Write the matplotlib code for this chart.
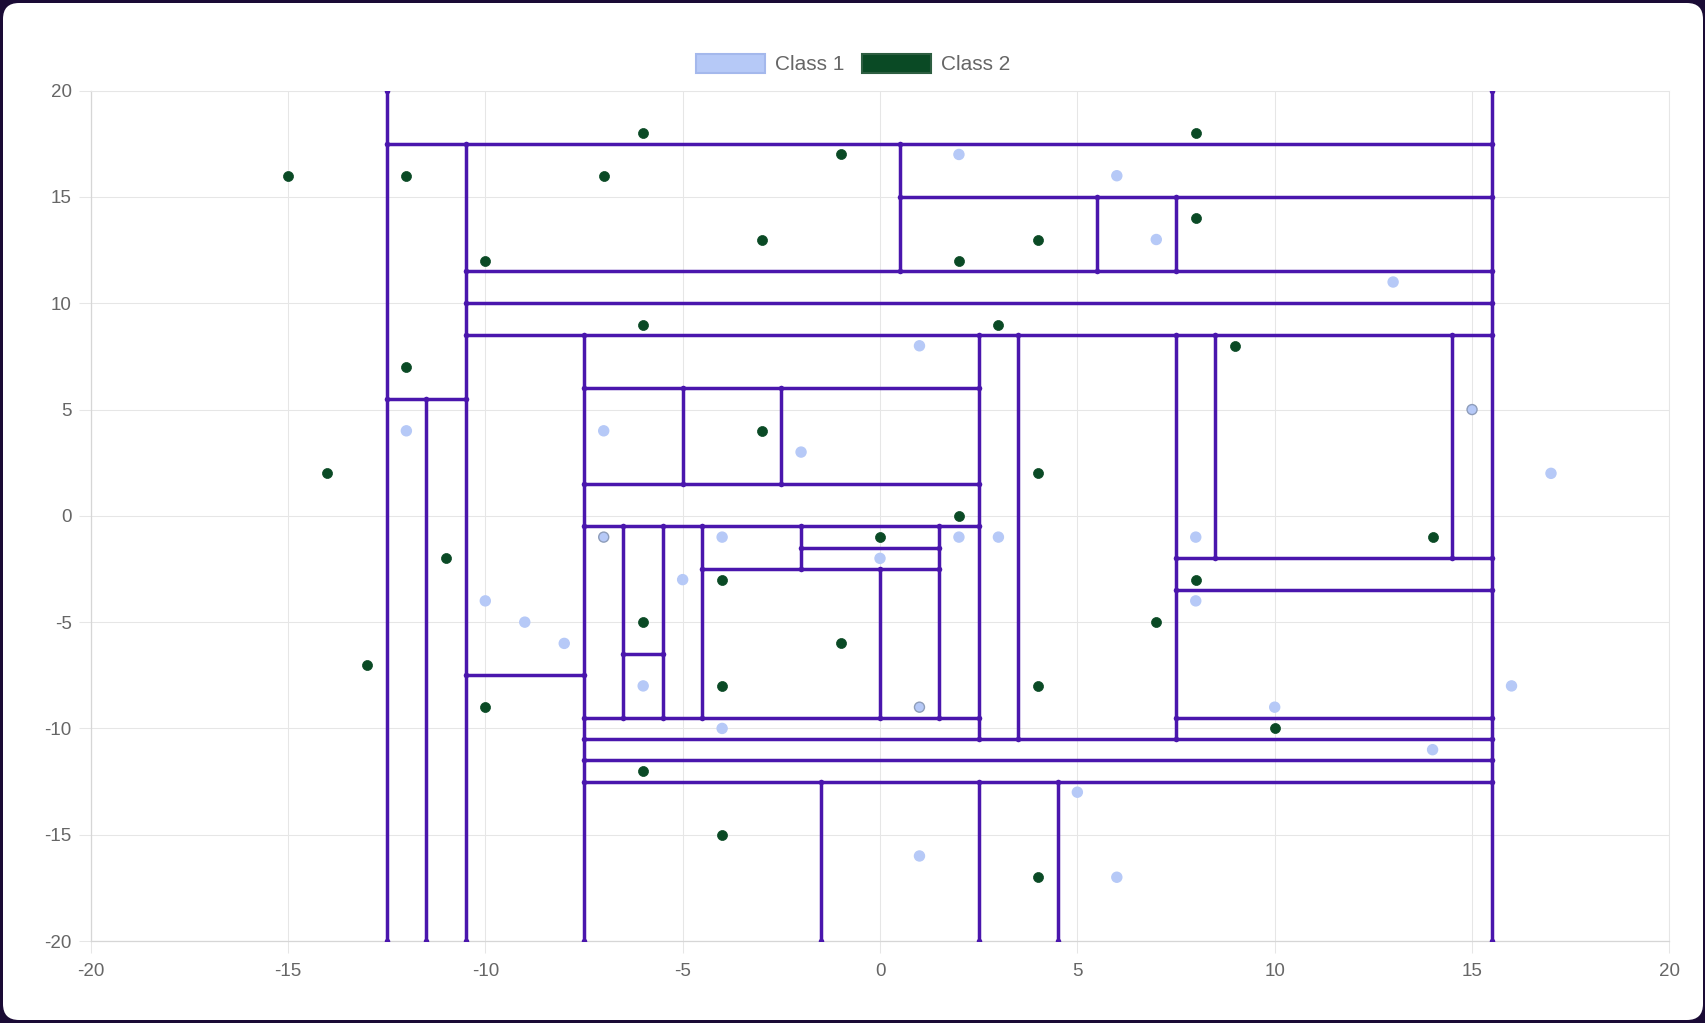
import matplotlib
matplotlib.use("Agg")
import matplotlib.pyplot as plt
from matplotlib.patches import FancyBboxPatch, Patch

# ---------------- data ----------------
class1_x = [2, 6, 7, 13, 1, 15, -12, -7, -2, 17, -7, -4, 2, 3, 8, 0, -5, -10, 8, -9,
            -8, -6, 16, 1, 10, -4, 14, 5, 1, 6]
class1_y = [17, 16, 13, 11, 8, 5, 4, 4, 3, 2, -1, -1, -1, -1, -1, -2, -3, -4, -4, -5,
            -6, -8, -8, -9, -9, -10, -11, -13, -16, -17]
class1_outlined = [False, False, False, False, False, True, False, False, False, False,
                   True, False, False, False, False, False, False, False, False, False,
                   False, False, False, True, False, False, False, False, False, False]

class2_x = [-15, -12, -7, -6, -1, 8, -10, -3, 2, 4, 8, -6, 3, 9, -12, -14, -3, 4, 2, 0,
            14, -11, -4, 8, -6, 7, -13, -1, -4, 4, -10, 10, -6, -4, 4]
class2_y = [16, 16, 16, 18, 17, 18, 12, 13, 12, 13, 14, 9, 9, 8, 7, 2, 4, 2, 0, -1,
            -1, -2, -3, -3, -5, -5, -7, -6, -8, -8, -9, -10, -12, -15, -17]

# decision boundaries: vertical splits (x, y_from, y_to)
vsplit_x = [-12.5, 15.5, -10.5, -11.5, 0.5, 5.5, 7.5, -7.5, 2.5, 3.5, 7.5, 8.5, 14.5,
            -5, -2.5, -6.5, -5.5, -4.5, -2, 0, 1.5, -1.5, 2.5, 4.5]
vsplit_y0 = [-20, -20, -20, -20, 11.5, 11.5, 11.5, -20, -10.5, -10.5, -10.5, -2, -2,
             1.5, 1.5, -9.5, -9.5, -9.5, -2.5, -9.5, -9.5, -20, -20, -20]
vsplit_y1 = [20, 20, 17.5, 5.5, 17.5, 15, 15, 8.5, 8.5, 8.5, 8.5, 8.5, 8.5,
             6, 6, -0.5, -0.5, -0.5, -0.5, -2.5, -0.5, -12.5, -12.5, -12.5]

# horizontal splits (y, x_from, x_to)
hsplit_y = [17.5, 5.5, -7.5, 11.5, 15, 10, 8.5, -2, -3.5, -9.5, 6, 1.5, -0.5, -6.5,
            -1.5, -2.5, -9.5, -10.5, -11.5, -12.5]
hsplit_x0 = [-12.5, -12.5, -10.5, -10.5, 0.5, -10.5, -10.5, 7.5, 7.5, 7.5, -7.5, -7.5,
             -7.5, -6.5, -2, -4.5, -7.5, -7.5, -7.5, -7.5]
hsplit_x1 = [15.5, -10.5, -7.5, 15.5, 15.5, 15.5, 15.5, 15.5, 15.5, 15.5, 2.5, 2.5,
             2.5, -5.5, 1.5, 1.5, 2.5, 15.5, 15.5, 15.5]

x_ticks = [-20, -15, -10, -5, 0, 5, 10, 15, 20]
y_ticks = [-20, -15, -10, -5, 0, 5, 10, 15, 20]
labels = ["Class 1", "Class 2"]

# ---------------- style ----------------
BG = "#1a0b35"
CARD = "#ffffff"
LIGHT = "#b6c9f7"
LIGHT_EDGE = "#a4b8ec"
GREEN = "#0a4a25"
GREEN_EDGE = "#2d5e41"
PURPLE = "#4a16ad"
GRID = "#e6e6e6"
AXISLINE = "#d6d6d6"
TXT = "#666666"
FONT = ["Liberation Sans", "DejaVu Sans"]

plt.rcParams["font.family"] = FONT
plt.rcParams["axes.unicode_minus"] = False

W, H = 1706, 1023
fig = plt.figure(figsize=(W / 100, H / 100), dpi=100)
fig.patch.set_facecolor(BG)

card = FancyBboxPatch((0.03, 0.03), W / 100 - 0.06, H / 100 - 0.06,
                      boxstyle="round,pad=0,rounding_size=0.16",
                      transform=fig.dpi_scale_trans, facecolor=CARD,
                      edgecolor="none", zorder=0)
fig.add_artist(card)

left_px, right_px, top_px, bottom_px = 90.6, 1669.4, 90.7, 941.0
ax = fig.add_axes([left_px / W, (H - bottom_px) / H,
                   (right_px - left_px) / W, (bottom_px - top_px) / H])
ax.set_facecolor(CARD)
ax.set_xlim(-20, 20)
ax.set_ylim(-20, 20)
ax.set_xticks(x_ticks)
ax.set_yticks(y_ticks)
ax.grid(True, color=GRID, linewidth=0.75, zorder=0)
ax.set_axisbelow(True)
for s in ["top", "right"]:
    ax.spines[s].set_color(GRID)
    ax.spines[s].set_linewidth(0.75)
for s in ["left", "bottom"]:
    ax.spines[s].set_color(AXISLINE)
    ax.spines[s].set_linewidth(0.9)
ax.tick_params(axis="both", length=8.6, width=0.75, color=GRID,
               labelcolor=TXT, labelsize=13.5)
ax.tick_params(axis="x", pad=7)
ax.tick_params(axis="y", pad=5)

# boundaries
LW = 2.5
MS = 4.0
for x, y0, y1 in zip(vsplit_x, vsplit_y0, vsplit_y1):
    ax.plot([x, x], [y0, y1], color=PURPLE, linewidth=LW, marker="o",
            markersize=MS, markeredgewidth=0, solid_capstyle="butt",
            zorder=3, clip_on=True)
for y, x0, x1 in zip(hsplit_y, hsplit_x0, hsplit_x1):
    ax.plot([x0, x1], [y, y], color=PURPLE, linewidth=LW, marker="o",
            markersize=MS, markeredgewidth=0, solid_capstyle="butt",
            zorder=3, clip_on=True)

# points
edge1 = ["#8e9dba" if o else LIGHT for o in class1_outlined]
ax.scatter(class1_x, class1_y, s=52, c=LIGHT, edgecolors=edge1,
           linewidths=1.0, zorder=4)
ax.scatter(class2_x, class2_y, s=52, c=GREEN, edgecolors=GREEN,
           linewidths=0.5, zorder=4)

handles = [Patch(facecolor=LIGHT, edgecolor=LIGHT_EDGE, linewidth=1.5, label=labels[0]),
           Patch(facecolor=GREEN, edgecolor=GREEN_EDGE, linewidth=1.5, label=labels[1])]
fig.legend(handles=handles, loc="center", bbox_to_anchor=(0.5, (H - 64) / H),
           ncol=2, frameon=False, fontsize=15, labelcolor=TXT,
           handlelength=3.3, handleheight=1.06, handletextpad=0.48,
           columnspacing=0.87)

fig.savefig("out.png", dpi=100, facecolor=fig.get_facecolor())
